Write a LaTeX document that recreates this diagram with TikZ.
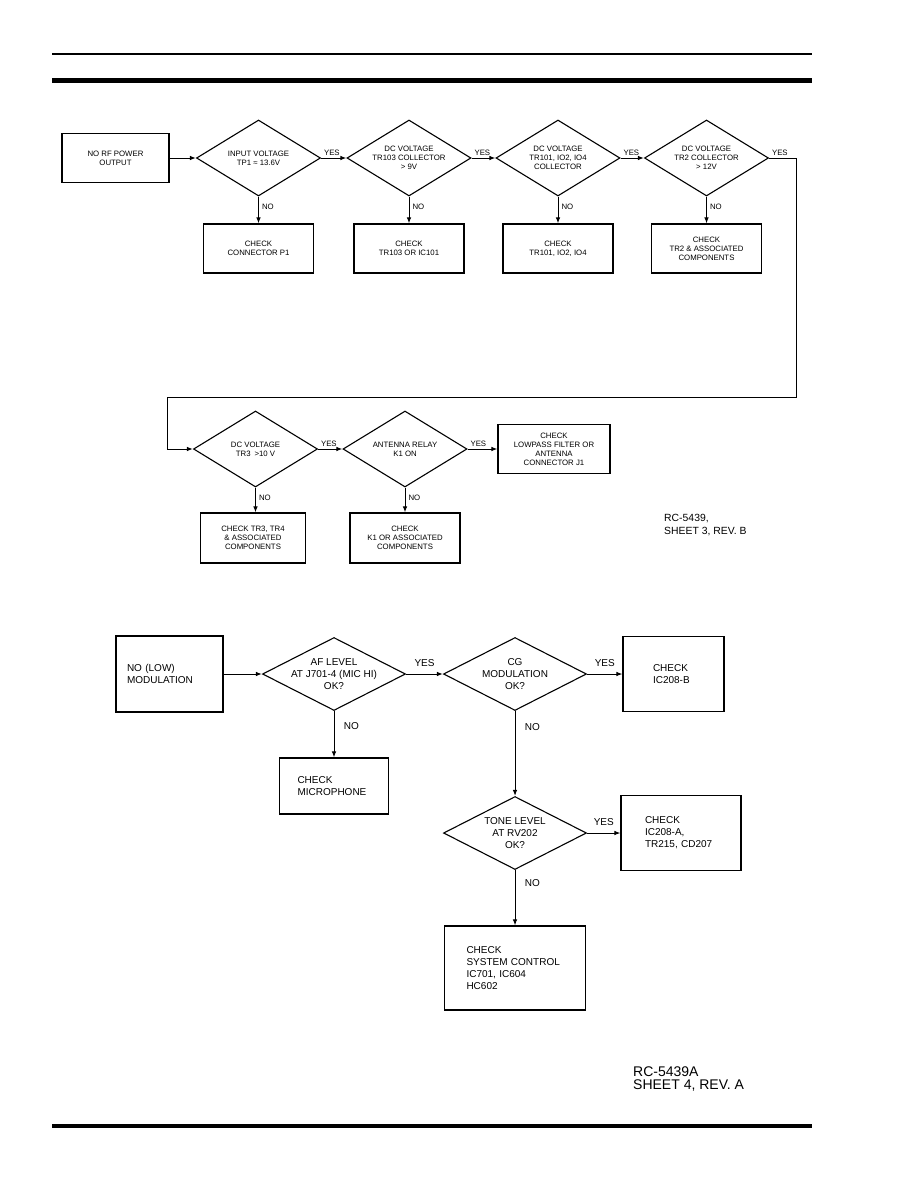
\documentclass[tikz,border=0pt]{standalone}
\usepackage{fontspec}
\setmainfont{Liberation Sans}
\usetikzlibrary{shapes.geometric,arrows.meta,positioning}

\newcommand{\topfont}{\fontsize{7.8}{9}\selectfont}
\newcommand{\lowfont}{\fontsize{10}{12}\selectfont}

\tikzset{
  topbox/.style={draw, line width=1.1pt, minimum width=110pt, minimum height=49pt,
    align=center, font=\topfont, inner sep=1pt},
  topdec/.style={diamond, draw, line width=1.1pt, minimum width=124pt,
    minimum height=76pt, inner sep=0pt},
  toptext/.style={align=center, font=\topfont, inner sep=0pt},
  lowbox/.style={draw, line width=1.1pt, align=left, font=\lowfont, inner ysep=0pt},
  lowdec/.style={diamond, draw, line width=1.1pt, minimum width=143pt,
    minimum height=73pt, inner sep=0pt},
  lowtext/.style={align=center, font=\lowfont, inner sep=0pt},
  flow/.style={line width=1pt, -{Latex[length=6pt,width=4.5pt]}},
  yestop/.style={pos=0, anchor=south west, font=\topfont, inner sep=1.5pt, xshift=1pt},
  notop/.style={pos=0.4, right, font=\topfont, inner sep=3pt},
  yeslow/.style={midway, above, font=\lowfont, yshift=4pt},
  nolow/.style={right, font=\lowfont, xshift=6pt},
}

\begin{document}
\begin{tikzpicture}[x=1pt,y=-1pt]
  \useasboundingbox (0,0) rectangle (918,1188);
  % Page rules
  \draw[line width=1.3pt] (52,54) -- (812,54);
  \draw[line width=5pt] (52,81) -- (812,81);
  \draw[line width=4pt] (52,1126) -- (812,1126);

  % RF power chart, first row
  \node[topbox, minimum width=107pt] (norf) at (115.5,158) {NO RF POWER\\OUTPUT};
  \node[topdec, label={[toptext]center:INPUT VOLTAGE\\TP1 ≈ 13.6V}] (d1) at (258.5,158) {};
  \node[topdec, label={[toptext]center:DC VOLTAGE\\TR103 COLLECTOR\\> 9V}] (d2) at (409,158) {};
  \node[topdec, label={[toptext]center:DC VOLTAGE\\TR101, IO2, IO4\\COLLECTOR}] (d3) at (558,158) {};
  \node[topdec, label={[toptext]center:DC VOLTAGE\\TR2 COLLECTOR\\> 12V}] (d4) at (706.5,158) {};
  \node[topbox] (chkp1) at (258.5,248.5) {CHECK\\CONNECTOR P1};
  \node[topbox] (chktr103) at (409,248.5) {CHECK\\TR103 OR IC101};
  \node[topbox] (chktr101) at (558,248.5) {CHECK\\TR101, IO2, IO4};
  \node[topbox] (chktr2) at (706.5,248.5) {CHECK\\TR2 \& ASSOCIATED\\COMPONENTS};

  % RF power chart, second row
  \node[topdec, label={[toptext]center:DC VOLTAGE\\TR3\enspace >10 V}] (d5) at (255.5,449) {};
  \node[topdec, label={[toptext]center:ANTENNA RELAY\\K1 ON}] (d6) at (405,449) {};
  \node[topbox, minimum width=112pt] (chklpf) at (554,449) {CHECK\\LOWPASS FILTER OR\\ANTENNA\\CONNECTOR J1};
  \node[topbox, minimum width=105pt, minimum height=50pt] (chktr3) at (253,538) {CHECK TR3, TR4\\\& ASSOCIATED\\COMPONENTS};
  \node[topbox, minimum height=50pt] (chkk1) at (405,538) {CHECK\\K1 OR ASSOCIATED\\COMPONENTS};
  \node[anchor=west, align=left, inner sep=0pt, font=\fontsize{10.4}{13}\selectfont] (sheet3) at (664,525) {RC-5439,\\SHEET 3, REV. B};

  \coordinate (wrapR) at (796,397);
  \coordinate (wrapL) at (167,397);
  \draw[flow] (norf.east) -- (d1.west);
  \draw[flow] (d1.east) -- node[yestop]{YES} (d2.west);
  \draw[flow] (d2.east) -- node[yestop]{YES} (d3.west);
  \draw[flow] (d3.east) -- node[yestop]{YES} (d4.west);
  \draw[flow] (d4.east) -| node[yestop]{YES} (wrapR) -- (wrapL) |- (d5.west);
  \draw[flow] (d5.east) -- node[yestop]{YES} (d6.west);
  \draw[flow] (d6.east) -- node[yestop]{YES} (chklpf.west);
  \draw[flow] (d1.south) -- node[notop]{NO} (chkp1.north);
  \draw[flow] (d2.south) -- node[notop]{NO} (chktr103.north);
  \draw[flow] (d3.south) -- node[notop]{NO} (chktr101.north);
  \draw[flow] (d4.south) -- node[notop]{NO} (chktr2.north);
  \draw[flow] (d5.south) -- node[notop]{NO} (d5.south |- chktr3.north);
  \draw[flow] (d6.south) -- node[notop]{NO} (chkk1.north);

  % Modulation chart
  \node[lowbox, text width=85pt, inner xsep=11pt, minimum height=76pt] (lowmod) at (169.5,674) {NO (LOW)\\MODULATION};
  \node[lowdec, label={[lowtext]center:AF LEVEL\\AT J701-4 (MIC HI)\\OK?}] (d7) at (334,674) {};
  \node[lowdec, label={[lowtext]center:CG\\MODULATION\\OK?}] (d8) at (515,674) {};
  \node[lowbox, text width=41pt, inner xsep=30pt, minimum height=75pt] (ic208b) at (673.5,674) {CHECK\\IC208-B};
  \node[lowbox, text width=73pt, inner xsep=18pt, minimum height=56pt] (mic) at (334,786) {CHECK\\MICROPHONE};
  \node[lowdec, label={[lowtext]center:TONE LEVEL\\AT RV202\\OK?}] (d9) at (515,833) {};
  \node[lowbox, text width=72pt, inner xsep=24pt, minimum height=75pt] (ic208a) at (681,833) {CHECK\\IC208-A,\\TR215, CD207};
  \node[lowbox, text width=97pt, inner xsep=22pt, minimum height=84pt] (sysctl) at (515,968) {CHECK\\SYSTEM CONTROL\\IC701, IC604\\HC602};
  \node[anchor=west, align=left, inner sep=0pt, font=\fontsize{14}{13}\selectfont] (sheet4) at (633,1079) {RC-5439A\\SHEET 4, REV. A};

  \draw[flow] (lowmod.east) -- (d7.west);
  \draw[flow] (d7.east) -- node[yeslow]{YES} (d8.west);
  \draw[flow] (d8.east) -- node[yeslow]{YES} (ic208b.west);
  \draw[flow] (d9.east) -- node[yeslow]{YES} (ic208a.west);
  \draw[flow] (d7.south) -- node[nolow, pos=0.32]{NO} (mic.north);
  \draw[flow] (d8.south) -- node[nolow, pos=0.19]{NO} (d9.north);
  \draw[flow] (d9.south) -- node[nolow, pos=0.23]{NO} (sysctl.north);
\end{tikzpicture}
\end{document}
